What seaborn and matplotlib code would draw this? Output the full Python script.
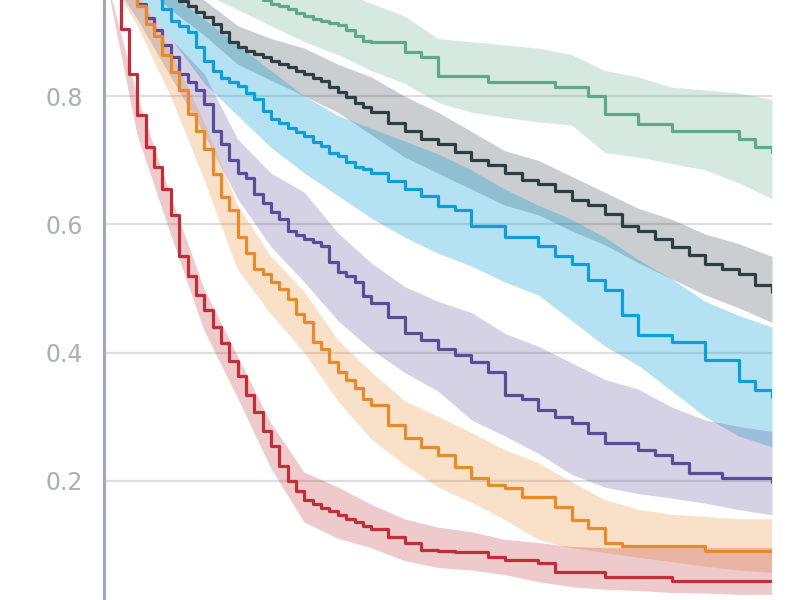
import numpy as np
import pandas as pd
import matplotlib
matplotlib.use("Agg")
import matplotlib.pyplot as plt
import seaborn as sns

# survival estimates: every 1.25 up to t=40, then every 2.5
times = [0, 1.25, 2.5, 3.75, 5, 6.25, 7.5, 8.75, 10, 11.25, 12.5, 13.75, 15,
         16.25, 17.5, 18.75, 20, 21.25, 22.5, 23.75, 25, 26.25, 27.5, 28.75,
         30, 31.25, 32.5, 33.75, 35, 36.25, 37.5, 38.75, 40,
         42.5, 45, 47.5, 50, 52.5, 55, 57.5, 60, 62.5, 65, 67.5, 70, 72.5, 75,
         77.5, 80, 82.5, 85, 87.5, 90, 92.5, 95, 97.5, 100]

green = [1.0, 1.0, 1.0, 0.998, 0.995, 0.993, 0.99, 0.988, 0.985, 0.983, 0.98,
         0.978, 0.975, 0.973, 0.97, 0.965, 0.96, 0.958, 0.955, 0.95, 0.944,
         0.94, 0.936, 0.93, 0.925, 0.92, 0.917, 0.914, 0.911, 0.903, 0.894,
         0.886, 0.884,
         0.884, 0.869, 0.861, 0.831, 0.831, 0.831, 0.822, 0.822, 0.822, 0.822,
         0.814, 0.814, 0.80, 0.772, 0.772, 0.756, 0.756, 0.745, 0.745, 0.745,
         0.745, 0.733, 0.72, 0.7125]
dark = [1.0, 1.0, 1.0, 0.995, 0.99, 0.983, 0.975, 0.965, 0.955, 0.948, 0.94,
        0.931, 0.923, 0.9125, 0.9, 0.884, 0.877, 0.87, 0.866, 0.861, 0.855,
        0.85, 0.845, 0.84, 0.834, 0.828, 0.823, 0.814, 0.806, 0.798, 0.789,
        0.783, 0.775,
        0.758, 0.745, 0.734, 0.725, 0.7125, 0.70, 0.692, 0.68, 0.67, 0.6625,
        0.652, 0.6375, 0.63, 0.616, 0.598, 0.589, 0.577, 0.564, 0.552, 0.5375,
        0.531, 0.522, 0.505, 0.494]
blue = [1.0, 0.995, 0.99, 0.985, 0.975, 0.965, 0.955, 0.936, 0.917, 0.91, 0.9,
        0.877, 0.855, 0.84, 0.828, 0.822, 0.816, 0.805, 0.795, 0.777, 0.764,
        0.758, 0.75, 0.744, 0.7375, 0.728, 0.722, 0.711, 0.706, 0.698, 0.69,
        0.686, 0.68,
        0.667, 0.655, 0.644, 0.628, 0.623, 0.597, 0.597, 0.58, 0.58, 0.566,
        0.55, 0.5375, 0.514, 0.498, 0.459, 0.428, 0.428, 0.416, 0.416, 0.389,
        0.389, 0.355, 0.342, 0.33]
purple = [1.0, 0.995, 0.98, 0.96, 0.944, 0.922, 0.903, 0.88, 0.861, 0.834,
          0.822, 0.81, 0.7875, 0.745, 0.725, 0.70, 0.68, 0.673, 0.647, 0.634,
          0.62, 0.608, 0.59, 0.583, 0.577, 0.572, 0.566, 0.542, 0.525, 0.52,
          0.51, 0.489, 0.478,
          0.455, 0.431, 0.42, 0.405, 0.397, 0.386, 0.369, 0.334, 0.327, 0.311,
          0.30, 0.29, 0.275, 0.259, 0.259, 0.248, 0.24, 0.228, 0.2125, 0.2125,
          0.205, 0.205, 0.205, 0.198]
orange = [1.0, 0.99, 0.975, 0.96, 0.94, 0.9125, 0.894, 0.864, 0.838, 0.81,
          0.772, 0.745, 0.717, 0.678, 0.642, 0.622, 0.58, 0.555, 0.53, 0.522,
          0.51, 0.50, 0.483, 0.46, 0.448, 0.416, 0.405, 0.386, 0.37, 0.358,
          0.345, 0.327, 0.319,
          0.2875, 0.267, 0.253, 0.24, 0.222, 0.205, 0.194, 0.189, 0.175, 0.175,
          0.159, 0.139, 0.127, 0.103, 0.098, 0.098, 0.098, 0.098, 0.098, 0.09,
          0.09, 0.09, 0.09, 0.09]
red = [1.0, 0.964, 0.905, 0.835, 0.77, 0.72, 0.69, 0.655, 0.615, 0.55, 0.52,
       0.49, 0.467, 0.44, 0.415, 0.3875, 0.363, 0.334, 0.308, 0.277, 0.255,
       0.2235, 0.20, 0.184, 0.17, 0.164, 0.158, 0.153, 0.147, 0.14, 0.136,
       0.13, 0.125,
       0.113, 0.103, 0.092, 0.09, 0.089, 0.089, 0.081, 0.077, 0.077, 0.072,
       0.058, 0.058, 0.058, 0.05, 0.05, 0.05, 0.05, 0.044, 0.044, 0.044,
       0.044, 0.044, 0.044, 0.044]

# confidence bands, sampled every 5 time units
band_times = [0, 5, 10, 15, 20, 25, 30, 35, 40, 45, 50, 55, 60, 65, 70, 75,
              80, 85, 90, 95, 100]
green_hi = [1.0, 1.0, 1.0, 1.0, 0.995, 0.99, 0.98, 0.965, 0.945, 0.925, 0.89,
            0.885, 0.88, 0.875, 0.865, 0.84, 0.83, 0.814, 0.81, 0.805, 0.795]
green_lo = [1.0, 0.99, 0.975, 0.96, 0.935, 0.91, 0.885, 0.865, 0.84, 0.82,
            0.79, 0.775, 0.767, 0.76, 0.755, 0.712, 0.705, 0.695, 0.685,
            0.665, 0.64]
dark_hi = [1.0, 1.0, 0.975, 0.95, 0.91, 0.89, 0.875, 0.85, 0.83, 0.80, 0.775,
           0.745, 0.715, 0.70, 0.675, 0.65, 0.625, 0.608, 0.585, 0.57, 0.55]
dark_lo = [1.0, 0.98, 0.935, 0.895, 0.85, 0.825, 0.80, 0.775, 0.74, 0.705,
           0.68, 0.655, 0.63, 0.615, 0.59, 0.568, 0.54, 0.515, 0.49, 0.47, 0.447]
blue_hi = [1.0, 0.99, 0.96, 0.92, 0.88, 0.84, 0.80, 0.77, 0.75, 0.73, 0.71,
           0.685, 0.655, 0.63, 0.608, 0.58, 0.545, 0.515, 0.48, 0.458, 0.44]
blue_lo = [1.0, 0.96, 0.89, 0.82, 0.77, 0.72, 0.68, 0.645, 0.61, 0.58, 0.555,
           0.535, 0.51, 0.49, 0.45, 0.41, 0.38, 0.34, 0.30, 0.27, 0.253]
purple_hi = [1.0, 0.96, 0.89, 0.835, 0.733, 0.68, 0.65, 0.587, 0.54, 0.503,
             0.48, 0.4625, 0.43, 0.41, 0.384, 0.358, 0.343, 0.315, 0.295,
             0.285, 0.277]
purple_lo = [1.0, 0.92, 0.83, 0.74, 0.64, 0.565, 0.51, 0.45, 0.405, 0.369,
             0.34, 0.295, 0.27, 0.243, 0.21, 0.19, 0.18, 0.173, 0.165, 0.155,
             0.147]
orange_hi = [1.0, 0.96, 0.87, 0.76, 0.63, 0.55, 0.495, 0.42, 0.37, 0.325, 0.30,
             0.275, 0.248, 0.228, 0.198, 0.17, 0.155, 0.147, 0.144, 0.14, 0.14]
orange_lo = [1.0, 0.91, 0.80, 0.67, 0.53, 0.46, 0.40, 0.325, 0.265, 0.225,
             0.19, 0.166, 0.139, 0.108, 0.095, 0.0875, 0.08, 0.073, 0.066,
             0.06, 0.056]
red_hi = [1.0, 0.80, 0.645, 0.50, 0.395, 0.29, 0.213, 0.19, 0.163, 0.14, 0.127,
          0.12, 0.108, 0.103, 0.097, 0.095, 0.095, 0.095, 0.095, 0.095, 0.095]
red_lo = [1.0, 0.74, 0.585, 0.435, 0.33, 0.22, 0.135, 0.11, 0.095, 0.075,
          0.064, 0.06, 0.053, 0.042, 0.034, 0.03, 0.028, 0.025, 0.024, 0.022,
          0.022]

colors = {"green": "#5fa88a", "dark": "#2d3e44", "blue": "#0c9fd8",
          "purple": "#5b4c9a", "orange": "#e8892b", "red": "#bf2f37"}
lines = {"green": green, "dark": dark, "blue": blue,
         "purple": purple, "orange": orange, "red": red}
bands = {"green": (green_lo, green_hi), "dark": (dark_lo, dark_hi),
         "blue": (blue_lo, blue_hi), "purple": (purple_lo, purple_hi),
         "orange": (orange_lo, orange_hi), "red": (red_lo, red_hi)}

df = pd.concat([pd.DataFrame({"time": times, "survival": v, "group": k})
                for k, v in lines.items()], ignore_index=True)

sns.set_style("white")
plt.rcParams["font.family"] = ["DejaVu Sans"]

fig = plt.figure(figsize=(8, 6), dpi=100)
# the reference is a crop: axes run past the top and bottom of the picture
ax = fig.add_axes([0.13, -0.015, 0.835, 1.0683])

for k, (lo, hi) in bands.items():
    alpha = 0.3 if k == "blue" else 0.25
    ax.fill_between(band_times, lo, hi, color=colors[k], alpha=alpha,
                    linewidth=0)

sns.lineplot(data=df, x="time", y="survival", hue="group", palette=colors,
             drawstyle="steps-post", linewidth=2.3, estimator=None,
             legend=False, ax=ax)

ax.set_xlim(0, 100)
ax.set_ylim(0, 1)
ax.set_yticks([0, 0.2, 0.4, 0.6, 0.8, 1.0])
ax.set_yticklabels(["0.0", "0.2", "0.4", "0.6", "0.8", "1.0"])
ax.set_xticks([])
ax.set_xlabel("")
ax.set_ylabel("")
ax.yaxis.grid(True, color="#dedede", linewidth=1.6)
ax.set_axisbelow(True)
ax.tick_params(axis="y", length=9, width=1.5, color="#d6d6d6",
               labelcolor="#abafb8", labelsize=17, pad=6)
for side in ["top", "right", "bottom"]:
    ax.spines[side].set_visible(False)
ax.spines["left"].set_color("#a3a7bb")
ax.spines["left"].set_linewidth(2.2)

fig.savefig("out.png", dpi=100)
